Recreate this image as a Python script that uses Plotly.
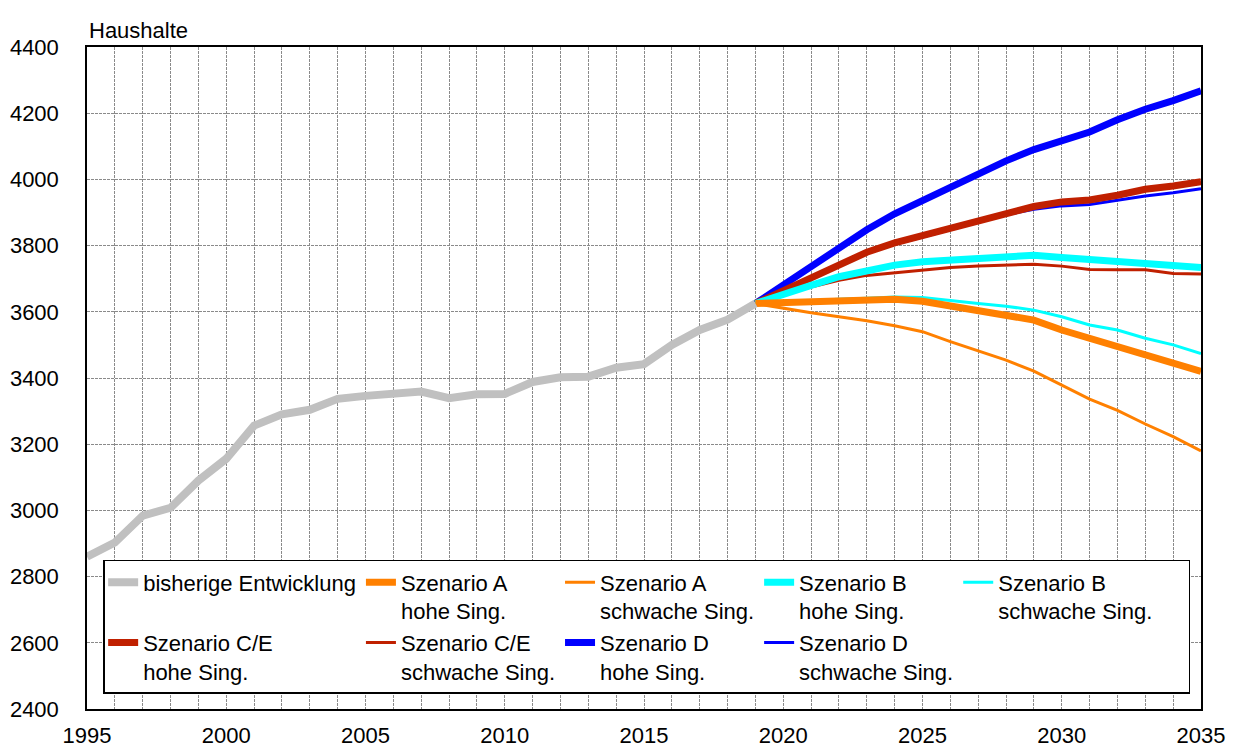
import plotly.graph_objects as go

hist_years = list(range(1995, 2020))
hist_values = [2860, 2903, 2984, 3008, 3090, 3156, 3256, 3290, 3304, 3337, 3346, 3354, 3359,
               3339, 3351, 3352, 3388, 3402, 3404, 3431, 3442, 3500, 3545, 3576, 3625]

proj_years = list(range(2019, 2036))
a_hohe = [3625, 3627, 3631, 3635, 3638, 3638, 3632, 3618, 3605, 3590, 3575, 3545, 3520, 3497, 3471, 3447, 3420]
a_schwach = [3625, 3610, 3597, 3585, 3573, 3558, 3540, 3510, 3482, 3454, 3421, 3379, 3336, 3302, 3261, 3223, 3180]
b_hohe = [3625, 3655, 3680, 3706, 3726, 3741, 3751, 3756, 3763, 3768, 3771, 3764, 3758, 3756, 3748, 3744, 3734]
b_schwach = [3625, 3630, 3634, 3638, 3641, 3645, 3643, 3633, 3625, 3617, 3605, 3585, 3560, 3545, 3520, 3500, 3474]
ce_hohe = [3625, 3665, 3705, 3745, 3780, 3808, 3830, 3852, 3876, 3900, 3918, 3932, 3938, 3952, 3970, 3980, 3993]
ce_schwach = [3625, 3652, 3675, 3695, 3710, 3718, 3728, 3734, 3738, 3742, 3744, 3738, 3728, 3727, 3727, 3716, 3714]
d_hohe = [3625, 3680, 3738, 3792, 3848, 3896, 3937, 3976, 4016, 4056, 4090, 4118, 4143, 4180, 4212, 4238, 4268]
d_schwach = [3625, 3665, 3705, 3745, 3778, 3805, 3826, 3848, 3870, 3893, 3910, 3920, 3924, 3938, 3950, 3960, 3972]

names = ["bisherige Entwicklung<br>&nbsp;",
         "Szenario A<br>hohe Sing.", "Szenario A<br>schwache Sing.",
         "Szenario B<br>hohe Sing.", "Szenario B<br>schwache Sing.&nbsp;&nbsp;&nbsp;&nbsp;&nbsp;",
         "Szenario C/E<br>hohe Sing.", "Szenario C/E<br>schwache Sing.",
         "Szenario D<br>hohe Sing.", "Szenario D<br>schwache Sing."]

GRAY = "#c0c0c0"
ORANGE = "#ff8000"
CYAN = "#00ffff"
RED = "#c02000"
BLUE = "#0000ff"

# (name index, x, y, color, width, legend group)
series = [
    (0, hist_years, hist_values, GRAY, 8, "g1"),
    (1, proj_years, a_hohe, ORANGE, 7, "g2"),
    (2, proj_years, a_schwach, ORANGE, 3, "g3"),
    (3, proj_years, b_hohe, CYAN, 7, "g4"),
    (4, proj_years, b_schwach, CYAN, 3, "g5"),
    (5, proj_years, ce_hohe, RED, 7, "g1"),
    (6, proj_years, ce_schwach, RED, 3, "g2"),
    (7, proj_years, d_hohe, BLUE, 7, "g3"),
    (8, proj_years, d_schwach, BLUE, 3, "g4"),
]

fig = go.Figure()
# draw in reverse order so earlier legend entries sit on top
for idx, xs, ys, col, w, grp in reversed(series):
    fig.add_trace(go.Scatter(
        x=xs, y=ys, mode="lines", name=names[idx],
        line=dict(color=col, width=w),
        legendgroup=grp, legendrank=idx + 1,
        hoverinfo="skip",
    ))

FONT = "Liberation Sans, Arial, sans-serif"
GRID = "#8a8a8a"
DASH = "3px,1px"

fig.update_layout(
    width=1236, height=749,
    margin=dict(l=87, r=35, t=47, b=40, autoexpand=False),
    paper_bgcolor="white", plot_bgcolor="white",
    font=dict(family=FONT, size=22, color="black"),
    showlegend=True,
    legend=dict(
        orientation="h", traceorder="grouped",
        x=0.0145, xanchor="left", y=0.0227, yanchor="bottom",
        bgcolor="white", bordercolor="black", borderwidth=1.5,
        font=dict(family=FONT, size=22, color="black"),
        valign="top", itemclick=False, itemdoubleclick=False,
    ),
    xaxis=dict(
        range=[1995, 2035], tick0=1995, dtick=5,
        showgrid=True, gridcolor=GRID, griddash=DASH, gridwidth=1,
        minor=dict(dtick=1, showgrid=True, gridcolor=GRID, griddash=DASH, gridwidth=1),
        showline=True, linecolor="black", linewidth=1.5, mirror=True,
        ticks="", ticklabelstandoff=6, zeroline=False, automargin=False,
        tickfont=dict(family=FONT, size=22, color="black"),
    ),
    yaxis=dict(
        range=[2400, 4400], tick0=2400, dtick=200,
        showgrid=True, gridcolor=GRID, griddash=DASH, gridwidth=1,
        showline=True, linecolor="black", linewidth=1.5, mirror=True,
        ticks="", ticklabelstandoff=22, zeroline=False, automargin=False,
        tickfont=dict(family=FONT, size=22, color="black"),
    ),
    annotations=[dict(
        text="Haushalte", xref="paper", yref="paper", x=0, y=1,
        xanchor="left", yanchor="bottom", yshift=2, showarrow=False,
        font=dict(family=FONT, size=22, color="black"),
    )],
)

fig.write_html("out.html", config={"displayModeBar": False},
               post_script="document.body.style.margin='0px';")
